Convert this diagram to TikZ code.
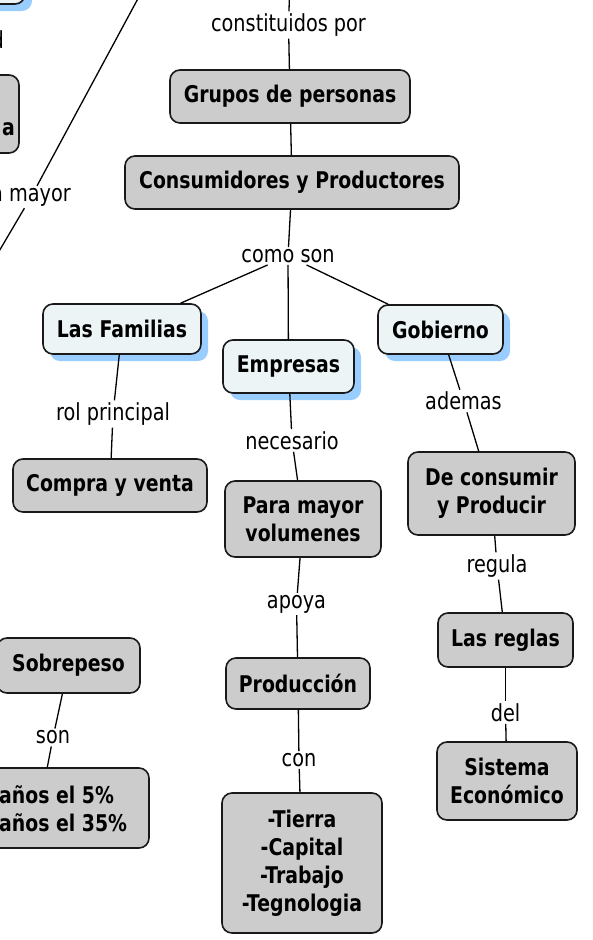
\documentclass[tikz,border=0pt]{standalone}
\usepackage{fontspec}
\setmainfont{DejaVu Sans}[FakeStretch=0.82]
\usetikzlibrary{shadows}
\definecolor{conceptgray}{RGB}{204,204,204}
\definecolor{conceptpale}{RGB}{236,244,246}
\definecolor{shadowblue}{RGB}{153,204,255}

\begin{document}
\begin{tikzpicture}[x=1pt,y=-1pt,
    box/.style 2 args={minimum width=#1, minimum height=#2},
    concept/.style={draw=black!90, line width=1.6pt, rounded corners=10pt,
      fill=conceptgray, align=center, inner sep=0pt,
      font=\fontsize{23}{28}\selectfont\bfseries},
    pale/.style={concept, fill=conceptpale,
      drop shadow={shadow xshift=7pt, shadow yshift=-7pt, fill=shadowblue, opacity=1}},
    bare/.style={inner sep=0pt, font=\fontsize{23}{28}\selectfont\bfseries},
    linkword/.style={inner sep=2pt, font=\fontsize{23.5}{26}\selectfont},
    every edge/.style={draw, line width=1.3pt}]
    \useasboundingbox (0,0) rectangle (592,940);
    \clip (0,0) rectangle (592,940);

    % cut off at the left edge
    \node[pale, box={150}{48}] (sup) at (-50,-20) {};
    \node[linkword, anchor=east] (ld) at (6,40) {d};
    \node[concept, box={140}{78}] (izq) at (-51,114) {};
    \node[bare, anchor=east] (izqT) at (15,129) {a};
    \node[linkword] (lmayor) at (31,197) {a mayor};
    \coordinate (ctop) at (148,-20);
    \coordinate (cbot) at (-12,270);

    \coordinate (ctop2) at (290,-20);
    \node[linkword] (lconst) at (288.5,25) {constituidos por};
    \node[concept, box={240}{53}] (grupos) at (290,96.5) {Grupos de personas};
    \node[concept, box={334}{53}] (consum) at (292,182.5) {Consumidores y Productores};
    \node[linkword] (lcomo) at (288,256) {como son};

    \node[pale, box={158}{50}] (familias) at (122,329) {Las Familias};
    \node[pale, box={131}{53}] (empresas) at (288.5,366.5) {Empresas};
    \node[pale, box={125}{49}] (gobierno) at (440.5,329.5) {Gobierno};

    \node[linkword] (lrol) at (113,414) {rol principal};
    \node[concept, box={194}{53}] (compra) at (110,485.5) {Compra y venta};

    \node[linkword] (lnec) at (292,440.5) {necesario};
    \node[concept, box={156}{76}] (para) at (303,519) {Para mayor\\volumenes};
    \node[linkword] (lapoya) at (296.5,604) {apoya};
    \node[concept, box={144}{51}] (produc) at (298,683.5) {Producción};
    \node[linkword] (lcon) at (299,760) {con};
    \node[concept, box={160}{140}] (tierra) at (302,863) {-Tierra\\-Capital\\-Trabajo\\-Tegnologia};

    \node[linkword] (ladem) at (463.5,401) {ademas};
    \node[concept, box={167}{83}] (decons) at (491.5,493.5) {De consumir\\y Producir};
    \node[linkword] (lreg) at (497,566) {regula};
    \node[concept, box={135}{54}] (reglas) at (505.5,640) {Las reglas};
    \node[linkword] (ldel) at (505.5,712.5) {del};
    \node[concept, box={140}{78}] (sistema) at (507,781) {Sistema\\Económico};

    \node[concept, box={143}{55}] (sobre) at (68.5,665.5) {Sobrepeso};
    \node[linkword] (lson) at (53,737.5) {son};
    \node[concept, box={219}{80}] (anos) at (39.5,808) {};
    \node[bare, align=left, anchor=west] (anosT) at (-1,809) {años el 5\%\\años el 35\%};

    \foreach \a/\b in {ctop/lmayor, lmayor/cbot, ctop2/lconst, lconst/grupos,
        grupos/consum, consum/lcomo, lcomo/familias, lcomo/empresas, lcomo/gobierno,
        familias/lrol, lrol/compra, empresas/lnec, lnec/para, para/lapoya,
        lapoya/produc, produc/lcon, lcon/tierra, gobierno/ladem, ladem/decons,
        decons/lreg, lreg/reglas, reglas/ldel, ldel/sistema, sobre/lson, lson/anos}
    {
      \path (\a) edge (\b);
    };
\end{tikzpicture}
\end{document}
